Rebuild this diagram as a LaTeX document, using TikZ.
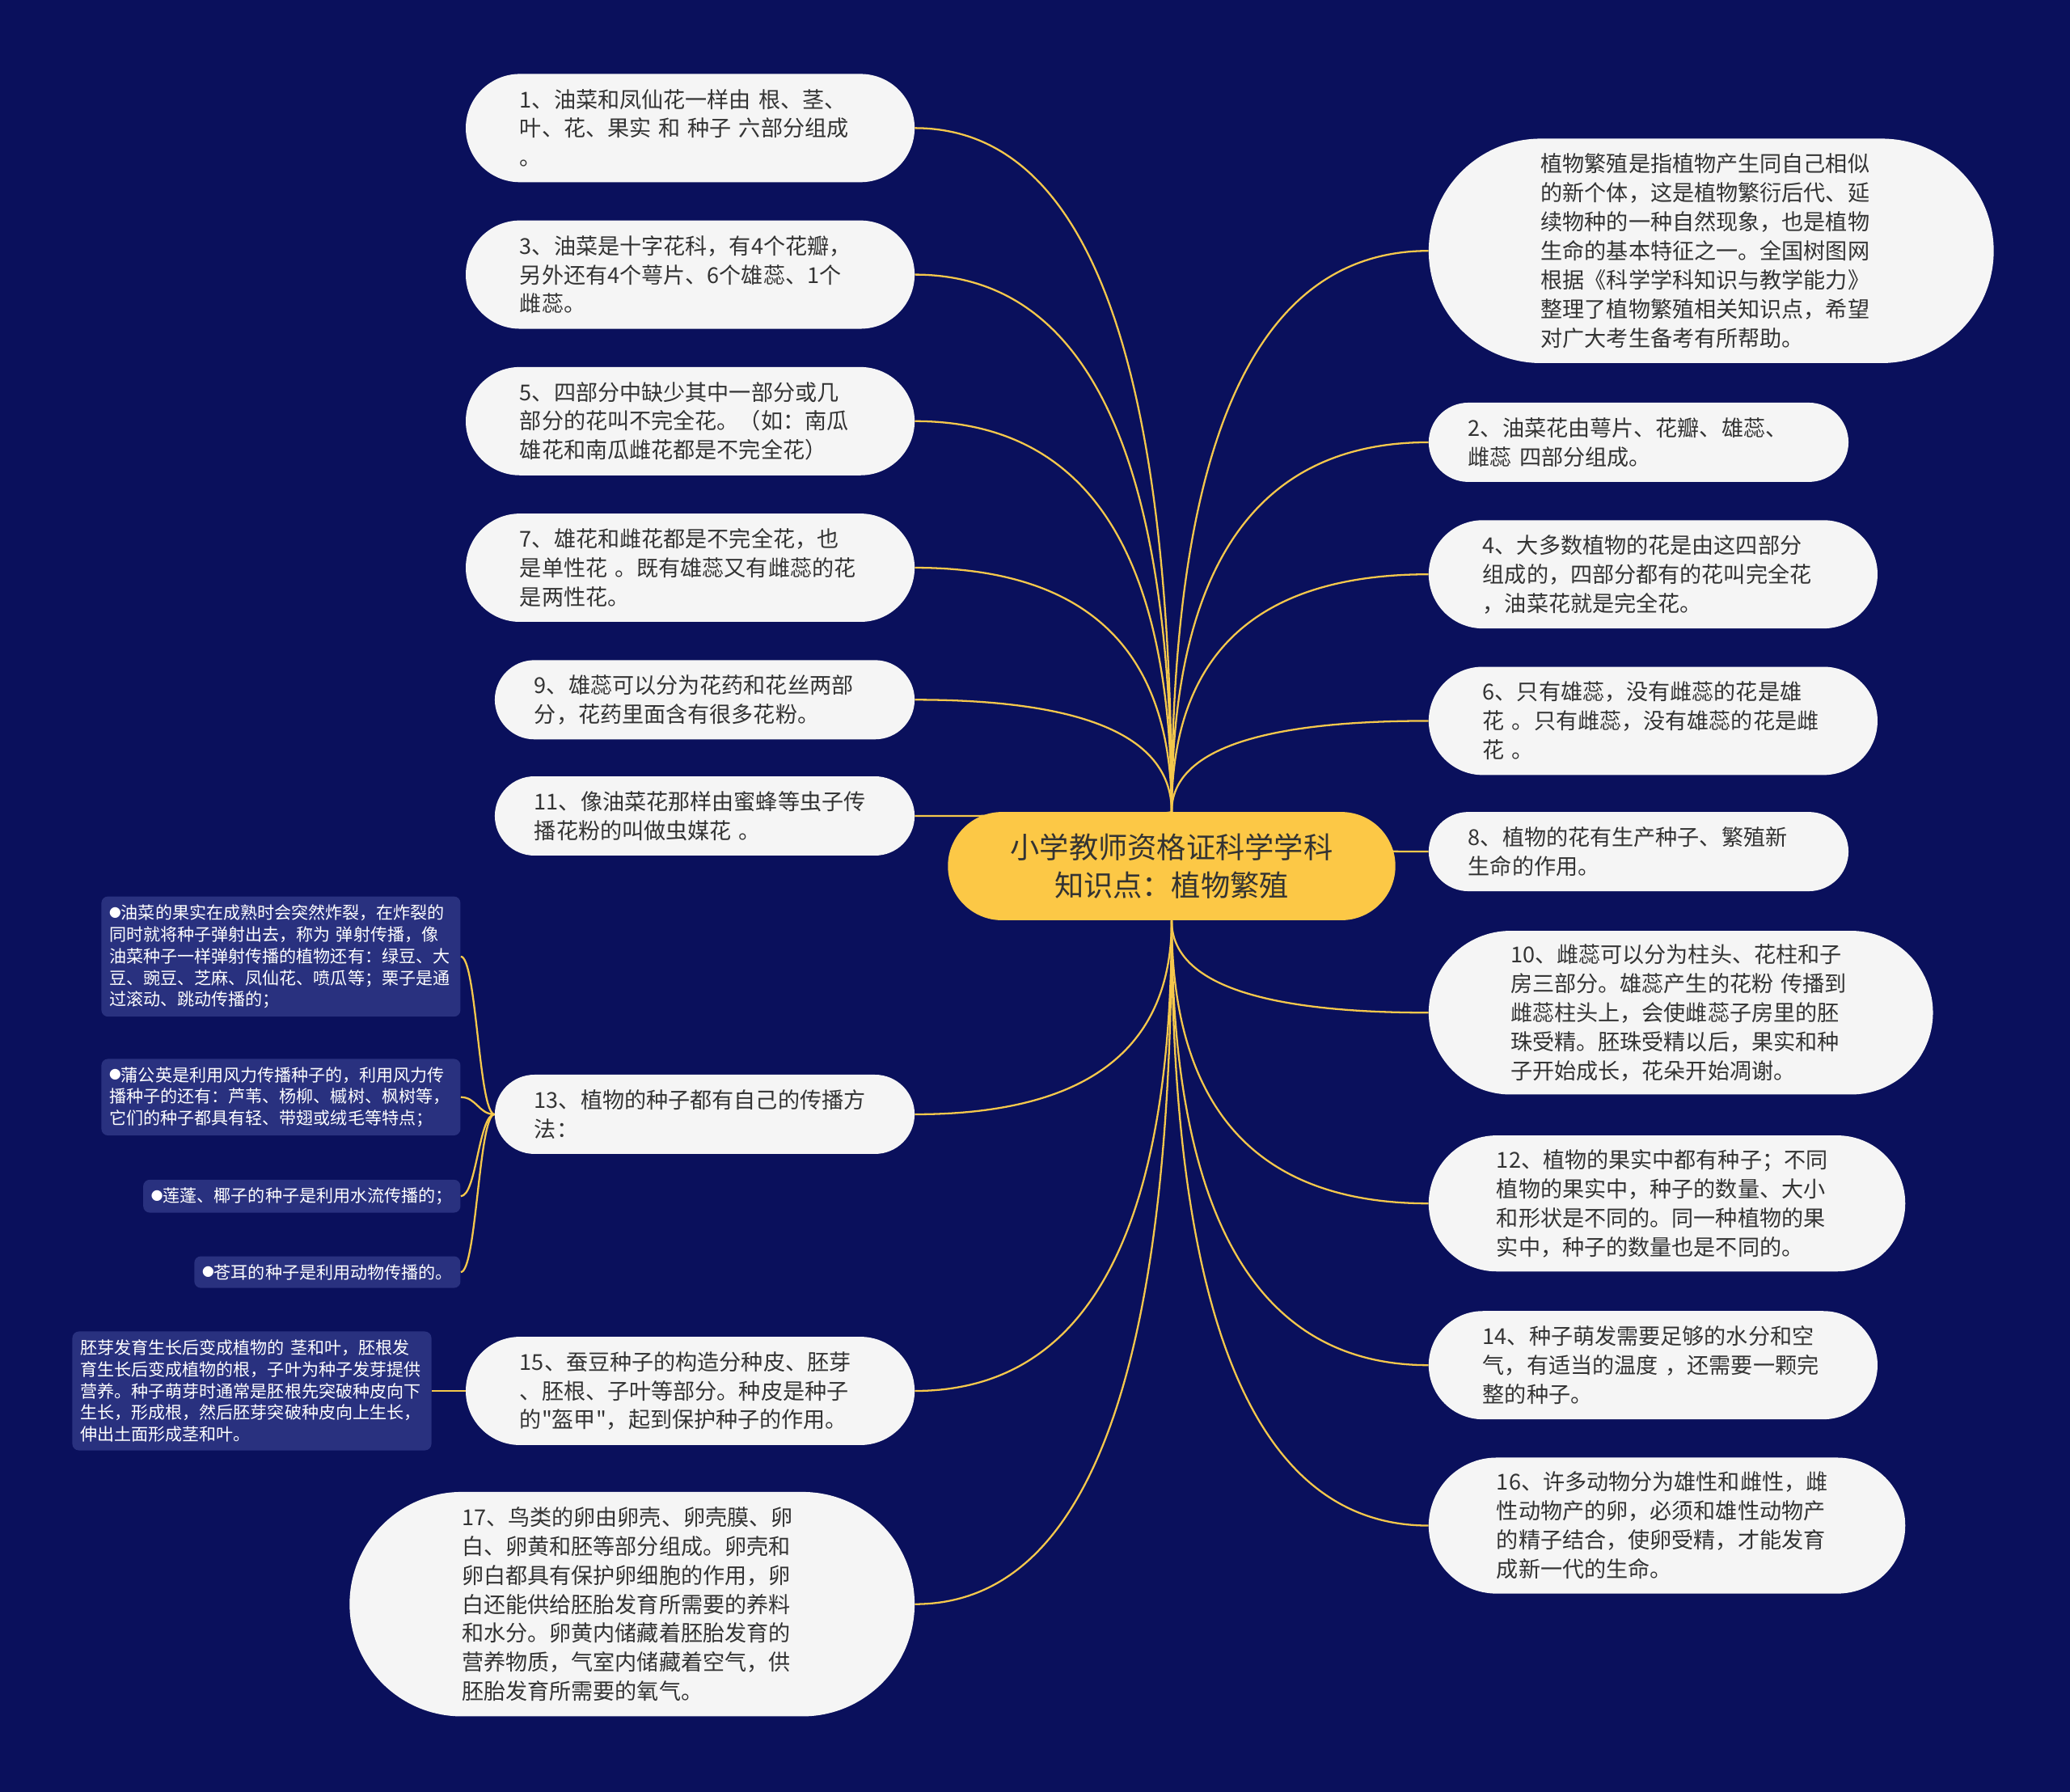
\documentclass[tikz,border=0pt]{standalone}
\usepackage{fontspec}
\setmainfont{Noto Sans CJK SC}[Ligatures=TeXOff]
\usepackage{xcolor}
\usepackage{tikz}
\usetikzlibrary{calc}
\definecolor{cnavy}{HTML}{0A105C}
\definecolor{cgold}{HTML}{F5C84C}
\definecolor{croot}{HTML}{FCC846}
\definecolor{ccard}{HTML}{F5F5F5}
\definecolor{cleaf}{HTML}{29317F}
\definecolor{ctext}{HTML}{333333}
\newcommand{\dotmark}{\raisebox{1.3pt}{\fontsize{9}{9}\selectfont ●}}
\pgfdeclarelayer{links}
\pgfsetlayers{links,main}

\begin{document}
\begin{tikzpicture}[
    x=1pt, y=-1pt,
    rootnode/.style={fill=croot, text=ctext, font=\fontsize{22.2}{29}\selectfont, align=center,
        minimum width=339pt, minimum height=82pt, rounded corners=41pt, inner sep=0pt},
    pill/.style={fill=ccard, text=ctext, font=\fontsize{16.6}{22}\selectfont, align=left,
        text width=258pt, inner ysep=0pt, inner xsep=#1*0.5pt, minimum height=#1pt, rounded corners=#1*0.5pt},
    leafbox/.style={fill=cleaf, text=white, font=\fontsize{12.9}{16.5}\selectfont, align=left,
        inner xsep=6pt, inner ysep=6pt, rounded corners=5pt},
    leafwide/.style={leafbox, text width=260pt},
    goldline/.style={draw=cgold, line width=1.4pt},
    quadlink/.style={to path={.. controls ($(\tikztostart)!0.667!(\tikztotarget-|\tikztostart)$)
        and ($(\tikztotarget)!0.667!(\tikztotarget-|\tikztostart)$) .. (\tikztotarget)}},
]
\useasboundingbox (0,0) rectangle (1568,1357);
% centre
\node[rootnode] (root) at (887.5,656) {小学教师资格证科学学科\\知识点：植物繁殖};
% left branches
\node[pill=82, anchor=east] (n1) at (693,97) {1、油菜和凤仙花一样由~根、茎、\\叶、花、果实~和~种子~六部分组成\\。};
\node[pill=82, anchor=east] (n3) at (693,208) {3、油菜是十字花科，有4个花瓣，\\另外还有4个萼片、6个雄蕊、1个\\雌蕊。};
\node[pill=82, anchor=east] (n5) at (693,319) {5、四部分中缺少其中一部分或几\\部分的花叫不完全花。（如：南瓜\\雄花和南瓜雌花都是不完全花）};
\node[pill=82, anchor=east] (n7) at (693,430) {7、雄花和雌花都是不完全花，也\\是单性花~。既有雄蕊又有雌蕊的花\\是两性花。};
\node[pill=60, anchor=east] (n9) at (693,530) {9、雄蕊可以分为花药和花丝两部\\分，花药里面含有很多花粉。};
\node[pill=60, anchor=east] (n11) at (693,618) {11、像油菜花那样由蜜蜂等虫子传\\播花粉的叫做虫媒花~。};
\node[pill=60, anchor=east] (n13) at (693,844) {13、植物的种子都有自己的传播方\\法：};
\node[pill=82, anchor=east] (n15) at (693,1053.5) {15、蚕豆种子的构造分种皮、胚芽\\、胚根、子叶等部分。种皮是种子\\的"盔甲"，起到保护种子的作用。};
\node[pill=170, anchor=east] (n17) at (693,1215) {17、鸟类的卵由卵壳、卵壳膜、卵\\白、卵黄和胚等部分组成。卵壳和\\卵白都具有保护卵细胞的作用，卵\\白还能供给胚胎发育所需要的养料\\和水分。卵黄内储藏着胚胎发育的\\营养物质，气室内储藏着空气，供\\胚胎发育所需要的氧气。};
% seed dispersal details
\node[leafwide, anchor=east] (s1) at (349,724.5) {\dotmark 油菜的果实在成熟时会突然炸裂，在炸裂的\\同时就将种子弹射出去，称为~弹射传播，像\\油菜种子一样弹射传播的植物还有：绿豆、大\\豆、豌豆、芝麻、凤仙花、喷瓜等；栗子是通\\过滚动、跳动传播的；};
\node[leafwide, anchor=east] (s2) at (349,831) {\dotmark 蒲公英是利用风力传播种子的，利用风力传\\播种子的还有：芦苇、杨柳、槭树、枫树等，\\它们的种子都具有轻、带翅或绒毛等特点；};
\node[leafbox, anchor=east] (s3) at (349,906) {\dotmark 莲蓬、椰子的种子是利用水流传播的；};
\node[leafbox, anchor=east] (s4) at (349,963.5) {\dotmark 苍耳的种子是利用动物传播的。};
\node[leafwide, anchor=east] (g15) at (327,1053.5) {胚芽发育生长后变成植物的~茎和叶，胚根发\\育生长后变成植物的根，子叶为种子发芽提供\\营养。种子萌芽时通常是胚根先突破种皮向下\\生长，形成根，然后胚芽突破种皮向上生长，\\伸出土面形成茎和叶。};
% right branches
\node[pill=170, anchor=west] (n0) at (1082,190) {植物繁殖是指植物产生同自己相似\\的新个体，这是植物繁衍后代、延\\续物种的一种自然现象，也是植物\\生命的基本特征之一。全国树图网\\根据《科学学科知识与教学能力》\\整理了植物繁殖相关知识点，希望\\对广大考生备考有所帮助。};
\node[pill=60, anchor=west] (n2) at (1082,335) {2、油菜花由萼片、花瓣、雄蕊、\\雌蕊~四部分组成。};
\node[pill=82, anchor=west] (n4) at (1082,435) {4、大多数植物的花是由这四部分\\组成的，四部分都有的花叫完全花\\，油菜花就是完全花。};
\node[pill=82, anchor=west] (n6) at (1082,546) {6、只有雄蕊，没有雌蕊的花是雄\\花~。只有雌蕊，没有雄蕊的花是雌\\花~。};
\node[pill=60, anchor=west] (n8) at (1082,645) {8、植物的花有生产种子、繁殖新\\生命的作用。};
\node[pill=124, anchor=west] (n10) at (1082,767) {10、雌蕊可以分为柱头、花柱和子\\房三部分。雄蕊产生的花粉~传播到\\雌蕊柱头上，会使雌蕊子房里的胚\\珠受精。胚珠受精以后，果实和种\\子开始成长，花朵开始凋谢。};
\node[pill=103, anchor=west] (n12) at (1082,911.5) {12、植物的果实中都有种子；不同\\植物的果实中，种子的数量、大小\\和形状是不同的。同一种植物的果\\实中，种子的数量也是不同的。};
\node[pill=82, anchor=west] (n14) at (1082,1034) {14、种子萌发需要足够的水分和空\\气，有适当的温度~，还需要一颗完\\整的种子。};
\node[pill=103, anchor=west] (n16) at (1082,1155.5) {16、许多动物分为雄性和雌性，雌\\性动物产的卵，必须和雄性动物产\\的精子结合，使卵受精，才能发育\\成新一代的生命。};
% connectors, kept under the nodes
\begin{pgfonlayer}{links}
\fill[cnavy] (0,0) rectangle (1568,1357);
\draw[goldline, quadlink] (root.north) to (n1.east);
\draw[goldline, quadlink] (root.north) to (n3.east);
\draw[goldline, quadlink] (root.north) to (n5.east);
\draw[goldline, quadlink] (root.north) to (n7.east);
\draw[goldline, quadlink] (root.north) to (n9.east);
\draw[goldline, quadlink] (root.north) to (n11.east);
\draw[goldline, quadlink] (root.south) to (n13.east);
\draw[goldline, quadlink] (root.south) to (n15.east);
\draw[goldline, quadlink] (root.south) to (n17.east);
\draw[goldline, quadlink] (root.north) to (n0.west);
\draw[goldline, quadlink] (root.north) to (n2.west);
\draw[goldline, quadlink] (root.north) to (n4.west);
\draw[goldline, quadlink] (root.north) to (n6.west);
\draw[goldline, quadlink] (root.north) to (n8.west);
\draw[goldline, quadlink] (root.south) to (n10.west);
\draw[goldline, quadlink] (root.south) to (n12.west);
\draw[goldline, quadlink] (root.south) to (n14.west);
\draw[goldline, quadlink] (root.south) to (n16.west);
% brace to the dispersal list
\draw[goldline] (n13.west) .. controls +(-12,0) and +(12,0) .. (s1.east);
\draw[goldline] (n13.west) .. controls +(-12,0) and +(12,0) .. (s2.east);
\draw[goldline] (n13.west) .. controls +(-12,0) and +(12,0) .. (s3.east);
\draw[goldline] (n13.west) .. controls +(-12,0) and +(12,0) .. (s4.east);
\draw[goldline] (n15.west) -- (g15.east);
\end{pgfonlayer}
\end{tikzpicture}
\end{document}
